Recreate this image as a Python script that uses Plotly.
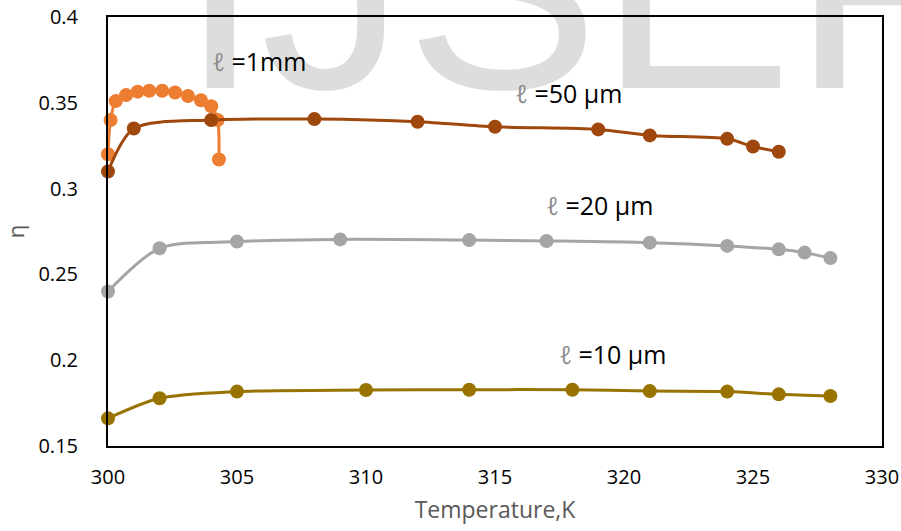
import plotly.graph_objects as go

# ---- data ----
x_1mm = [300.0, 300.1, 300.3, 300.7, 301.15, 301.6, 302.1, 302.6, 303.1, 303.6, 304.0, 304.25, 304.3]
y_1mm = [0.320, 0.340, 0.351, 0.3545, 0.3565, 0.357, 0.357, 0.356, 0.354, 0.3515, 0.348, 0.340, 0.317]

x_50um = [300, 301, 304, 308, 312, 315, 319, 321, 324, 325, 326]
y_50um = [0.310, 0.335, 0.340, 0.3405, 0.339, 0.336, 0.3345, 0.331, 0.329, 0.3245, 0.3215]

x_20um = [300, 302, 305, 309, 314, 317, 321, 324, 326, 327, 328]
y_20um = [0.240, 0.2652, 0.2691, 0.2704, 0.2700, 0.2695, 0.2685, 0.2666, 0.2646, 0.2627, 0.2595]

x_10um = [300, 302, 305, 310, 314, 318, 321, 324, 326, 328]
y_10um = [0.1661, 0.1778, 0.1817, 0.1826, 0.1828, 0.1828, 0.1820, 0.1817, 0.1801, 0.1791]

series_names = ["ℓ =1mm", "ℓ =50 μm", "ℓ =20 μm", "ℓ =10 μm"]
series_colors = ["#ED7D31", "#9E480E", "#A5A5A5", "#997300"]

x_tickvals = [300, 305, 310, 315, 320, 325, 330]
y_tickvals = [0.15, 0.2, 0.25, 0.3, 0.35, 0.4]
y_ticktext = ["0.15", "0.2", "0.25", "0.3", "0.35", "0.4"]

# label anchor positions (data coords, left edge)
label_x = [303.95, 315.7, 316.9, 317.4]
label_y = [0.3745, 0.3555, 0.2905, 0.2036]

FONT = "Open Sans"

fig = go.Figure()
for xs, ys, name, col in zip([x_1mm, x_50um, x_20um, x_10um],
                             [y_1mm, y_50um, y_20um, y_10um],
                             series_names, series_colors):
    fig.add_trace(go.Scatter(
        x=xs, y=ys, name=name, mode="lines+markers",
        line=dict(color=col, width=3, shape="spline", smoothing=0.8),
        marker=dict(color=col, size=14),
        showlegend=False, cliponaxis=False,
    ))

annotations = [
    dict(text="IJSER", xref="paper", yref="paper", x=0.0904, y=0.6888,
         xanchor="left", yanchor="bottom", showarrow=False,
         font=dict(family="Liberation Sans", size=290, color="rgba(0,0,0,0.135)")),
]
for name, lx, ly in zip(series_names, label_x, label_y):
    sym, rest = name.split(" ", 1)
    annotations.append(dict(
        text=f"<span style='color:#8c8c8c'><i>{sym}</i></span> {rest}",
        x=lx, y=ly, xref="x", yref="y", xanchor="left", yanchor="middle",
        showarrow=False, font=dict(family=FONT, size=25, color="#000000")))

fig.update_layout(
    width=901, height=531,
    margin=dict(l=108, r=19, t=17, b=85),
    paper_bgcolor="white", plot_bgcolor="rgba(0,0,0,0)",
    font=dict(family=FONT, color="#000000"),
    annotations=annotations,
    xaxis=dict(range=[300, 330], tickvals=x_tickvals, showgrid=False, zeroline=False,
               showline=True, linecolor="black", linewidth=2, mirror=True,
               ticks="", ticklabelstandoff=12, automargin=False,
               tickfont=dict(family=FONT, size=20, color="#000000"),
               title=dict(text="Temperature,K", standoff=13,
                          font=dict(family=FONT, size=23, color="#595959"))),
    yaxis=dict(range=[0.15, 0.4], tickvals=y_tickvals, ticktext=y_ticktext,
               showgrid=False, zeroline=False,
               showline=True, linecolor="black", linewidth=2, mirror=True,
               ticks="", ticklabelstandoff=24, automargin=False,
               tickfont=dict(family=FONT, size=20, color="#000000"),
               title=dict(text="η", standoff=27,
                          font=dict(family=FONT, size=22, color="#595959"))),
)

fig.write_html("out.html")
